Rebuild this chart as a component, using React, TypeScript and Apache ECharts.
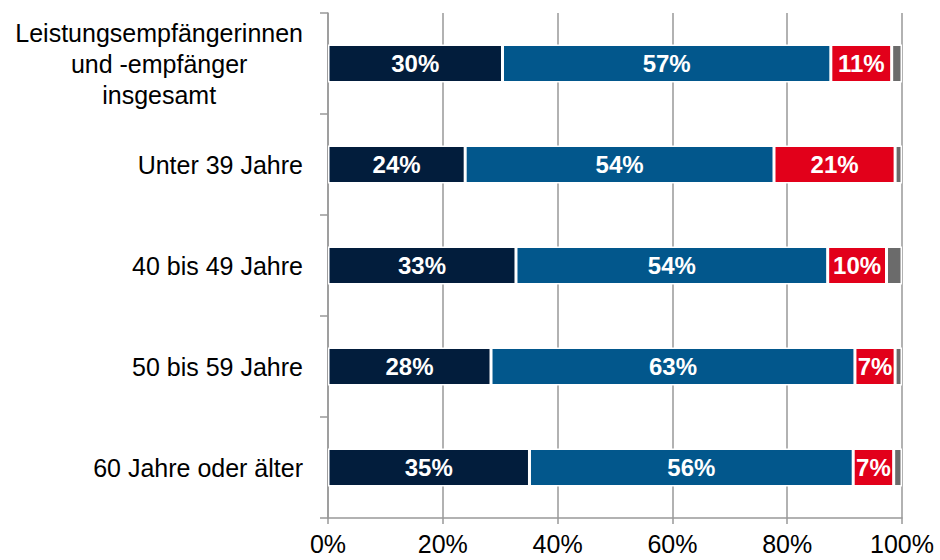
import React, { useEffect, useRef } from "react";
import * as echarts from "echarts";

const categories = [
  "Leistungsempfängerinnen\nund -empfänger\ninsgesamt",
  "Unter 39 Jahre",
  "40 bis 49 Jahre",
  "50 bis 59 Jahre",
  "60 Jahre oder älter",
];
const seriesNavy = [30.4, 23.9, 32.75, 28.4, 35.1];
const seriesBlue = [57.2, 53.8, 54.3, 63.4, 56.4];
const seriesRed = [10.6, 21.1, 10.25, 7.0, 7.05];
const seriesGray = [1.8, 1.2, 2.7, 1.2, 1.45];
const xTicks = [0, 20, 40, 60, 80, 100];

const FONT = "'Liberation Sans', Arial, sans-serif";

export default function App() {
  const ref = useRef<HTMLDivElement>(null);
  useEffect(() => {
    document.body.style.margin = "0";
    if (!ref.current) return;
    const chart = echarts.init(ref.current, undefined, { renderer: "svg" });
    const label = {
      show: true,
      position: "inside",
      color: "#fff",
      fontWeight: "bold",
      fontSize: 24,
      fontFamily: FONT,
      formatter: (p: any) => Math.round(p.value) + "%",
    };
    const mk = (name: string, data: number[], color: string, withLabel: boolean) => ({
      name,
      type: "bar",
      stack: "all",
      data,
      barWidth: 38,
      itemStyle: { color, borderColor: "#fff", borderWidth: 1.5 },
      label: withLabel ? label : { show: false },
    });
    chart.setOption({
      animation: false,
      grid: { left: 328, right: 38, top: 13, bottom: 42, containLabel: false },
      xAxis: {
        type: "value",
        min: xTicks[0],
        max: xTicks[xTicks.length - 1],
        interval: 20,
        axisLine: { show: true, lineStyle: { color: "#999", width: 1.5 } },
        axisTick: { show: true, length: 6, lineStyle: { color: "#999", width: 1.5 } },
        splitLine: { show: true, lineStyle: { color: "#999", width: 1.5 } },
        axisLabel: {
          formatter: "{value}%",
          fontSize: 25,
          color: "#000",
          fontFamily: FONT,
          margin: 13,
        },
      },
      yAxis: {
        type: "category",
        inverse: true,
        data: categories,
        axisLine: { show: true, lineStyle: { color: "#999", width: 1.5 } },
        axisTick: { show: true, length: 8, lineStyle: { color: "#999", width: 1.5 } },
        axisLabel: {
          fontSize: 25,
          color: "#000",
          fontFamily: FONT,
          margin: 25,
          lineHeight: 31,
          formatter: (v: string, i: number) => (i === 0 ? v.split("\n").map((s) => `{c|${s}}`).join("\n") : v),
          rich: {
            c: { align: "center", fontSize: 25, lineHeight: 31, color: "#000", fontFamily: FONT },
          },
        },
      },
      series: [
        mk("navy", seriesNavy, "#021d3c", true),
        mk("blue", seriesBlue, "#02578c", true),
        mk("red", seriesRed, "#e2001a", true),
        mk("gray", seriesGray, "#6b6b6b", false),
      ],
    });
    return () => chart.dispose();
  }, []);
  return <div ref={ref} style={{ width: 940, height: 560 }} />;
}
